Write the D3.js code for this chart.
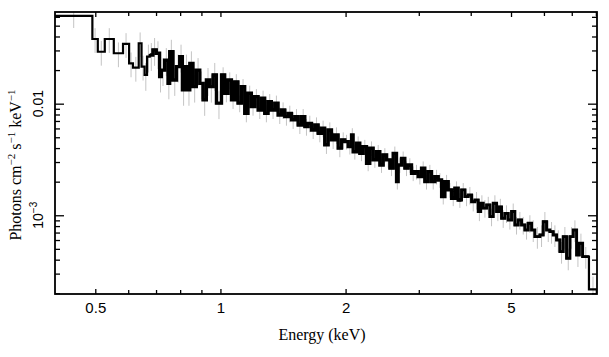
<!DOCTYPE html>
<html><head><meta charset="utf-8">
<script src="https://cdn.jsdelivr.net/npm/d3@7"></script>
<style>body{margin:0;background:#fff} svg{display:block}</style>
</head><body>
<svg id="c" width="609" height="357"></svg>
<script>
// Bin edges (keV), 148 values -> 147 bins
const edges = [
  0.400, 0.492, 0.507, 0.527, 0.554, 0.583, 0.603, 0.616, 0.636, 0.646,
  0.657, 0.666, 0.676, 0.688, 0.701, 0.714, 0.721, 0.734, 0.748, 0.755,
  0.769, 0.784, 0.798, 0.810, 0.821, 0.836, 0.844, 0.859, 0.875, 0.892,
  0.908, 0.925, 0.942, 0.960, 0.978,
  1.006, 1.024, 1.043, 1.063, 1.082, 1.102, 1.123, 1.144, 1.165, 1.187,
  1.209, 1.232, 1.255, 1.278, 1.302, 1.326, 1.351, 1.376, 1.402, 1.428,
  1.455, 1.482, 1.510, 1.538, 1.567, 1.596, 1.625, 1.656, 1.687, 1.718,
  1.750, 1.782, 1.816, 1.850, 1.884, 1.919, 1.956,
  1.992, 2.029, 2.067, 2.085, 2.125, 2.164, 2.204, 2.246, 2.287, 2.330,
  2.374, 2.418, 2.463, 2.509, 2.556, 2.603, 2.652, 2.676, 2.726, 2.777,
  2.828, 2.882, 2.935, 2.990, 3.046, 3.102, 3.160, 3.220, 3.280, 3.341,
  3.404, 3.467, 3.531, 3.597, 3.664, 3.731, 3.802,
  3.873, 3.944, 4.019, 4.093, 4.169, 4.225, 4.286, 4.368, 4.448, 4.530,
  4.616, 4.682, 4.745, 4.832, 4.922, 5.015, 5.108, 5.202, 5.301, 5.399,
  5.499, 5.604, 5.706, 5.867, 5.975, 6.089, 6.201, 6.316, 6.436, 6.555,
  6.675, 6.802, 6.929, 7.056, 7.191, 7.296, 7.434, 7.699, 8.05
];
// Flux (photons cm^-2 s^-1 keV^-1) per bin
const flux = [
  0.0611, 0.0380, 0.0292, 0.0380, 0.0283, 0.0343, 0.0230, 0.0210, 0.0348, 0.0215,
  0.0181, 0.0264, 0.0273, 0.0303, 0.0283, 0.0175, 0.0200, 0.0246, 0.0152, 0.0292,
  0.0163, 0.0215, 0.0264, 0.0133, 0.0215, 0.0133, 0.0230, 0.0142, 0.0200, 0.0152,
  0.0108, 0.0163, 0.0142, 0.0181, 0.0101,
  0.0181, 0.0124, 0.0163, 0.0108, 0.0157, 0.0101, 0.0142, 0.00820, 0.0124, 0.00940,
  0.01155, 0.00878, 0.01118, 0.00820, 0.01042, 0.00878, 0.0101, 0.00792, 0.00878, 0.00765,
  0.00820, 0.00715, 0.00765, 0.00644, 0.00765, 0.00622, 0.00667, 0.00581, 0.00644, 0.00543,
  0.00602, 0.00427, 0.00581, 0.00473, 0.00524, 0.00399, 0.00473,
  0.00457, 0.00412, 0.00524, 0.00371, 0.00442, 0.00359, 0.00412, 0.00292, 0.00399, 0.00313,
  0.00371, 0.00282, 0.00347, 0.00313, 0.00264, 0.00359, 0.00200, 0.00282, 0.00324, 0.00264,
  0.00282, 0.00238, 0.00246, 0.00222, 0.00264, 0.00200, 0.00246, 0.00200, 0.00222, 0.00207,
  0.00147, 0.00200, 0.00169, 0.00142, 0.00175, 0.00137, 0.00169,
  0.00147, 0.00152, 0.00132, 0.00137, 0.00108, 0.00128, 0.00116, 0.00124, 0.000972, 0.00128,
  0.00108, 0.00119, 0.000940, 0.00104, 0.000908, 0.00108, 0.000819, 0.000908, 0.000819, 0.000738,
  0.000848, 0.000738, 0.000643, 0.000666, 0.000876, 0.000738, 0.000713, 0.000666, 0.000601, 0.000472,
  0.000643, 0.000412, 0.000643, 0.000738, 0.000441, 0.000561, 0.000426, 0.000217
];
// Relative 1-sigma errors per bin
const relErr = [
  0.22,
  0.25, 0.25, 0.25, 0.25, 0.25, 0.25, 0.25, 0.25, 0.25,
  0.28, 0.28, 0.28, 0.28, 0.28, 0.28, 0.28, 0.28, 0.28, 0.28,
  0.28, 0.28, 0.28, 0.28, 0.28, 0.28, 0.28, 0.28, 0.28, 0.28,
  0.28, 0.28, 0.28, 0.28, 0.28,
  0.17, 0.17, 0.17, 0.17, 0.17, 0.17, 0.17, 0.17, 0.17, 0.17,
  0.17, 0.17, 0.17, 0.17, 0.17, 0.17, 0.17, 0.17, 0.17, 0.17,
  0.17, 0.17, 0.17, 0.17, 0.17, 0.17, 0.17, 0.17, 0.17, 0.17,
  0.17, 0.17, 0.17, 0.17, 0.17, 0.17, 0.17,
  0.15, 0.15, 0.15, 0.15, 0.15, 0.15, 0.15, 0.15, 0.15, 0.15,
  0.15, 0.15, 0.15, 0.15, 0.15, 0.15, 0.15, 0.15, 0.15, 0.15,
  0.15, 0.15, 0.15, 0.15, 0.15, 0.15, 0.15, 0.15, 0.15, 0.15,
  0.15, 0.15, 0.15, 0.15, 0.15, 0.15, 0.15,
  0.18, 0.18, 0.18, 0.18, 0.18, 0.18, 0.18, 0.18, 0.18, 0.18,
  0.18, 0.18, 0.18, 0.18, 0.18, 0.18, 0.18, 0.18, 0.18, 0.18, 0.18,
  0.22, 0.22, 0.22, 0.22, 0.22, 0.22, 0.22, 0.22, 0.22, 0.22,
  0.22, 0.22, 0.22, 0.22, 0.22, 0.22,
  0.30
];

const xMajorTicks = [0.5, 1, 2, 5];
const xMinorTicks = [0.6, 0.7, 0.8, 0.9, 3, 4, 6, 7, 8];
const yMajorTicks = [0.01, 0.001];
const yMinorTicks = [2e-4, 3e-4, 4e-4, 5e-4, 6e-4, 7e-4, 8e-4, 9e-4,
                     2e-3, 3e-3, 4e-3, 5e-3, 6e-3, 7e-3, 8e-3, 9e-3,
                     0.02, 0.03, 0.04, 0.05, 0.06];
const xTickLabels = ["0.5", "1", "2", "5"];
const xAxisTitle = "Energy (keV)";

const M = {l: 55, r: 597, t: 12, b: 294};
const x = d3.scaleLog().domain([0.4, 8.05]).range([M.l, M.r]);
const y = d3.scaleLog().domain([1.97e-4, 0.0663]).range([M.b, M.t]);

const svg = d3.select("#c");
svg.append("defs").append("clipPath").attr("id", "clip")
  .append("rect").attr("x", M.l).attr("y", M.t)
  .attr("width", M.r - M.l).attr("height", M.b - M.t);

const bins = flux.map((f, i) => ({lo: edges[i], hi: edges[i + 1], f, e: relErr[i]}));

const plot = svg.append("g").attr("clip-path", "url(#clip)");

// error bars
plot.append("g").selectAll("line").data(bins).join("line")
  .attr("x1", d => x(Math.sqrt(d.lo * d.hi)))
  .attr("x2", d => x(Math.sqrt(d.lo * d.hi)))
  .attr("y1", d => y(d.f * (1 + d.e)))
  .attr("y2", d => y(d.f * (1 - d.e)))
  .attr("stroke", "#c4c4c4").attr("stroke-width", 1);

// step histogram
const stepLine = d3.line().x(d => x(d[0])).y(d => y(d[1]));
function stepPts(arr) {
  const p = [];
  arr.forEach(d => { p.push([d.lo, d.f]); p.push([d.hi, d.f]); });
  return p;
}
plot.append("path").datum(stepPts(bins))
  .attr("d", stepLine)
  .attr("fill", "none").attr("stroke", "#000").attr("stroke-width", 2.2)
  .attr("stroke-linejoin", "miter");
// densely binned part of the spectrum (bins merge into a solid band)
plot.append("path").datum(stepPts(bins.slice(12, 108)))
  .attr("d", stepLine)
  .attr("fill", "none").attr("stroke", "#000").attr("stroke-width", 3.3)
  .attr("stroke-linejoin", "miter");
plot.append("path").datum(stepPts(bins.slice(107, 146)))
  .attr("d", stepLine)
  .attr("fill", "none").attr("stroke", "#000").attr("stroke-width", 2.9)
  .attr("stroke-linejoin", "miter");

// axes
function styleAxis(g) {
  g.select(".domain").remove();
  g.selectAll(".tick line").attr("stroke", "#000").attr("stroke-width", 1.3);
}
const fmtMap = new Map(xMajorTicks.map((v, i) => [v, xTickLabels[i]]));

svg.append("g").attr("transform", `translate(0,${M.b})`)
  .call(d3.axisBottom(x).tickValues(xMajorTicks).tickSizeInner(-5).tickSizeOuter(0)
    .tickPadding(8).tickFormat(v => fmtMap.get(v)))
  .call(styleAxis)
  .call(g => g.selectAll("text").attr("font-family", "'Liberation Sans', Arial, sans-serif")
    .attr("font-size", 15).attr("fill", "#000"));
svg.append("g").attr("transform", `translate(0,${M.b})`)
  .call(d3.axisBottom(x).tickValues(xMinorTicks).tickSizeInner(-4).tickSizeOuter(0).tickFormat(""))
  .call(styleAxis);
svg.append("g").attr("transform", `translate(0,${M.t})`)
  .call(d3.axisTop(x).tickValues(xMajorTicks).tickSizeInner(-5).tickSizeOuter(0).tickFormat(""))
  .call(styleAxis);
svg.append("g").attr("transform", `translate(0,${M.t})`)
  .call(d3.axisTop(x).tickValues(xMinorTicks).tickSizeInner(-4).tickSizeOuter(0).tickFormat(""))
  .call(styleAxis);

svg.append("g").attr("transform", `translate(${M.l},0)`)
  .call(d3.axisLeft(y).tickValues(yMajorTicks).tickSizeInner(-9).tickSizeOuter(0).tickFormat(""))
  .call(styleAxis);
svg.append("g").attr("transform", `translate(${M.l},0)`)
  .call(d3.axisLeft(y).tickValues(yMinorTicks).tickSizeInner(-5).tickSizeOuter(0).tickFormat(""))
  .call(styleAxis);
svg.append("g").attr("transform", `translate(${M.r},0)`)
  .call(d3.axisRight(y).tickValues(yMajorTicks).tickSizeInner(-9).tickSizeOuter(0).tickFormat(""))
  .call(styleAxis);
svg.append("g").attr("transform", `translate(${M.r},0)`)
  .call(d3.axisRight(y).tickValues(yMinorTicks).tickSizeInner(-5).tickSizeOuter(0).tickFormat(""))
  .call(styleAxis);

// frame
svg.append("rect").attr("x", M.l).attr("y", M.t)
  .attr("width", M.r - M.l).attr("height", M.b - M.t)
  .attr("fill", "none").attr("stroke", "#000").attr("stroke-width", 1.8);

// y tick labels (rotated)
const sans = "'Liberation Sans', Arial, sans-serif";
svg.append("text").attr("transform", `translate(43,${y(0.01)}) rotate(-90)`)
  .attr("text-anchor", "middle").attr("font-family", sans).attr("font-size", 14).text("0.01");
const yl2 = svg.append("text").attr("transform", `translate(43,${y(0.001)}) rotate(-90)`)
  .attr("text-anchor", "middle").attr("font-family", sans).attr("font-size", 14);
yl2.append("tspan").text("10");
yl2.append("tspan").attr("font-size", 10).attr("dy", -6).text("\u22123");

// axis titles
const serif = "'Liberation Serif', 'Times New Roman', serif";
svg.append("text").attr("x", 322).attr("y", 340).attr("text-anchor", "middle")
  .attr("font-family", serif).attr("font-size", 16).text(xAxisTitle);

const yt = svg.append("text").attr("transform", `translate(21,165) rotate(-90)`)
  .attr("text-anchor", "middle").attr("font-family", serif).attr("font-size", 16);
yt.append("tspan").text("Photons cm");
yt.append("tspan").attr("font-size", 11).attr("dy", -6).text("\u22122");
yt.append("tspan").attr("dy", 6).text(" s");
yt.append("tspan").attr("font-size", 11).attr("dy", -6).text("\u22121");
yt.append("tspan").attr("dy", 6).text(" keV");
yt.append("tspan").attr("font-size", 11).attr("dy", -6).text("\u22121");
</script>
</body></html>
